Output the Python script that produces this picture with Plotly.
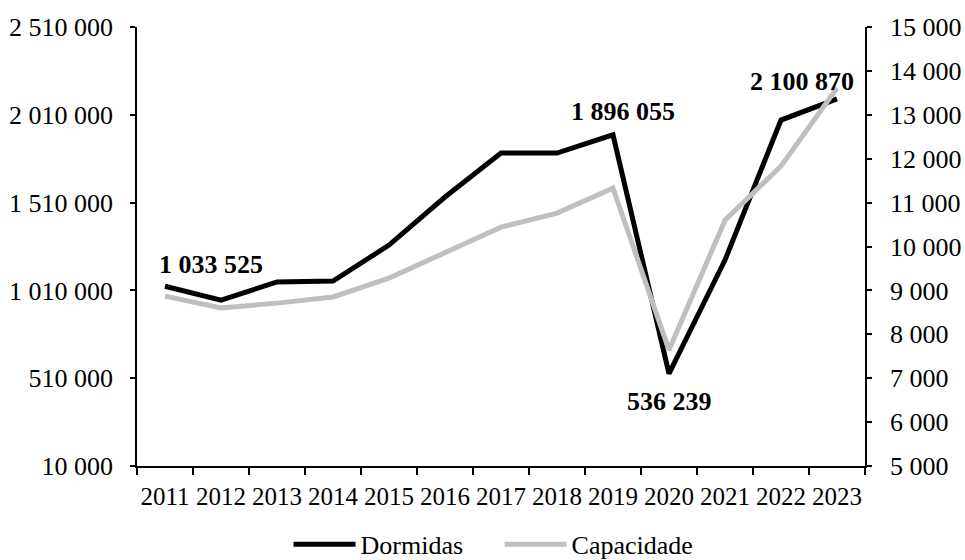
import plotly.graph_objects as go

years = ["2011", "2012", "2013", "2014", "2015", "2016", "2017",
         "2018", "2019", "2020", "2021", "2022", "2023"]
dormidas = [1033525, 955000, 1058000, 1063000, 1268000, 1542000, 1792000,
            1792000, 1896055, 536239, 1183000, 1980000, 2100870]
capacidade = [8870, 8600, 8710, 8850, 9280, 9870, 10440,
              10760, 11330, 7640, 10600, 11830, 13610]
right_ticks = [5000, 6000, 7000, 8000, 9000, 10000, 11000,
               12000, 13000, 14000, 15000]

# labelled points: (index, xshift, yshift)
label_points = [(0, 46, 22), (8, 10, 23), (9, 0, -28), (12, -35, 17)]

FONT = "Liberation Serif, Times New Roman, serif"

def fmt(v):
    return f"{v:,}".replace(",", " ")

PAD = "<span style='color:rgba(0,0,0,0)'>0</span>"

fig = go.Figure()
fig.add_trace(go.Scatter(x=years, y=dormidas, name="Dormidas", mode="lines",
                         line=dict(color="black", width=5), yaxis="y"))
fig.add_trace(go.Scatter(x=years, y=capacidade, name="Capacidade", mode="lines",
                         line=dict(color="#BFBFBF", width=5), yaxis="y2"))

for i, xs, ys in label_points:
    fig.add_annotation(x=i, y=dormidas[i], xref="x", yref="y",
                       text="<b>" + fmt(dormidas[i]) + "</b>", showarrow=False,
                       xshift=xs, yshift=ys,
                       font=dict(family=FONT, size=26, color="black"))

fig.update_layout(
    width=965, height=560,
    margin=dict(l=137, r=100, t=27, b=94, autoexpand=False),
    paper_bgcolor="white", plot_bgcolor="white",
    font=dict(family=FONT, size=26, color="black"),
    separators=", ",
    showlegend=True,
    legend=dict(orientation="h", x=0.498, xanchor="center", xref="paper",
                y=0.028, yanchor="middle", yref="container",
                font=dict(family=FONT, size=26), itemwidth=62, entrywidth=134,
                bgcolor="rgba(0,0,0,0)"),
    xaxis=dict(type="category", range=[-0.5, len(years) - 0.5], tickson="boundaries",
               ticks="outside", ticklen=7, tickangle=0, automargin=False,
               ticklabelstandoff=7,
               tickcolor="black", tickwidth=1.5, showline=True, linecolor="black",
               linewidth=1.5, showgrid=False, tickfont=dict(size=25), zeroline=False),
    yaxis=dict(range=[10000, 2510000], tick0=10000, dtick=500000, tickformat=",d",
               ticks="outside", ticklen=5, tickcolor="black", tickwidth=1.5,
               automargin=False, ticklabelstandoff=12,
               showline=True, linecolor="black", linewidth=1.5, showgrid=False,
               zeroline=False, tickfont=dict(size=26)),
    yaxis2=dict(range=[5000, 15000], tickvals=right_ticks,
                ticktext=[PAD + fmt(v) for v in right_ticks],
                overlaying="y", side="right", ticks="outside", ticklen=5,
                automargin=False,
                tickcolor="black", tickwidth=1.5, showline=True, linecolor="black",
                linewidth=1.5, showgrid=False, zeroline=False, tickfont=dict(size=26)),
)

fig.write_html("out.html")
